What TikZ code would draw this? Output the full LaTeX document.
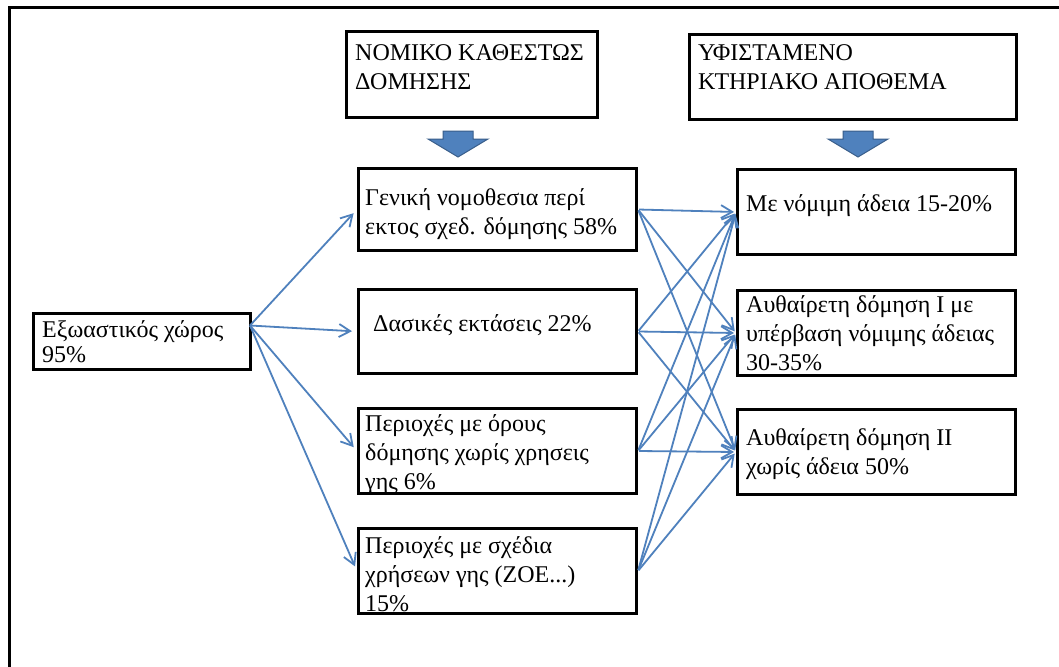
\documentclass[tikz,border=0pt]{standalone}
\usepackage{fontspec}
\setmainfont{Liberation Serif}
\usetikzlibrary{arrows.meta}
\definecolor{ablue}{HTML}{4F81BD}
\definecolor{ablueD}{HTML}{385D8A}
\begin{document}
\begin{tikzpicture}[x=1pt,y=-1pt,
  box/.style={draw=black, line width=3pt, inner sep=0pt, anchor=north west},
  txt/.style={font=\fontsize{24}{29}\selectfont, align=left, inner sep=0pt, anchor=north west},
  link/.style={draw=ablue, line width=1.8pt, -{Straight Barb[angle=60:13pt]}},
  blockarrow/.style={fill=ablue, draw=ablueD, line width=1pt}]
\clip (0,0) rectangle (1059,666);
\fill[white] (0,0) rectangle (1059,666);
% outer frame (runs off the right and bottom edges)
\draw[line width=3pt] (9,700) -- (9,8) -- (1100,8);

% boxes
\node[box, minimum width=251pt, minimum height=86pt] (top1) at (345,30) {};
\node[box, minimum width=327pt, minimum height=85pt] (top2) at (688,33) {};
\node[box, minimum width=217pt, minimum height=56pt] (ex) at (32,312) {};
\node[box, minimum width=278pt, minimum height=82pt] (m1) at (357,167) {};
\node[box, minimum width=278pt, minimum height=84pt] (m2) at (357,288) {};
\node[box, minimum width=278pt, minimum height=85pt] (m3) at (357,407) {};
\node[box, minimum width=278pt, minimum height=85pt] (m4) at (357,527) {};
\node[box, minimum width=278pt, minimum height=85pt] (r1) at (736,168) {};
\node[box, minimum width=278pt, minimum height=85pt] (r2) at (736,289) {};
\node[box, minimum width=278pt, minimum height=85pt] (r3) at (736,408) {};

% texts
\node[txt] (ttop1) at (355,40) {\strut ΝΟΜΙΚΟ ΚΑΘΕΣΤΩΣ\\ΔΟΜΗΣΗΣ};
\node[txt] (ttop2) at (698,40) {\strut ΥΦΙΣΤΑΜΕΝΟ\\ΚΤΗΡΙΑΚΟ ΑΠΟΘΕΜΑ};
\node[txt, font=\fontsize{24}{25}\selectfont] (tex) at (42,320) {\strut Εξωαστικός χώρος\\95\%};
\node[txt] (tm1) at (365,185) {\strut Γενική νομοθεσια περί\\εκτος σχεδ. δόμησης 58\%};
\node[txt] (tm2) at (373,311) {\strut Δασικές εκτάσεις 22\%};
\node[txt] (tm3) at (365,411) {\strut Περιοχές με όρους\\δόμησης χωρίς χρησεις\\γης 6\%};
\node[txt] (tm4) at (365,533) {\strut Περιοχές με σχέδια\\χρήσεων γης (ΖΟΕ...)\\15\%};
\node[txt] (tr1) at (746,191) {\strut Με νόμιμη άδεια 15-20\%};
\node[txt] (tr2) at (746,292) {\strut Αυθαίρετη δόμηση I με\\υπέρβαση νόμιμης άδειας\\30-35\%};
\node[txt] (tr3) at (746,425) {\strut Αυθαίρετη δόμηση II\\χωρίς άδεια 50\%};

% block arrows
\foreach \c in {458,858}{
  \draw[blockarrow] (\c-15,131) -- (\c+15,131) -- (\c+15,139) -- (\c+30,139)
    -- (\c,157) -- (\c-30,139) -- (\c-15,139) -- cycle;
}

% connectors
\foreach \t in {m1,m2,m3,m4}
  \draw[link, shorten >=5pt] ([xshift=-2pt,yshift=16pt]ex.east) -- (\t.west);
\foreach \s in {m1,m2,m3,m4}
  \foreach \t in {r1,r2,r3}
    \draw[link, shorten >=2pt, shorten <=1pt] (\s.east) -- (\t.west);
\end{tikzpicture}
\end{document}
